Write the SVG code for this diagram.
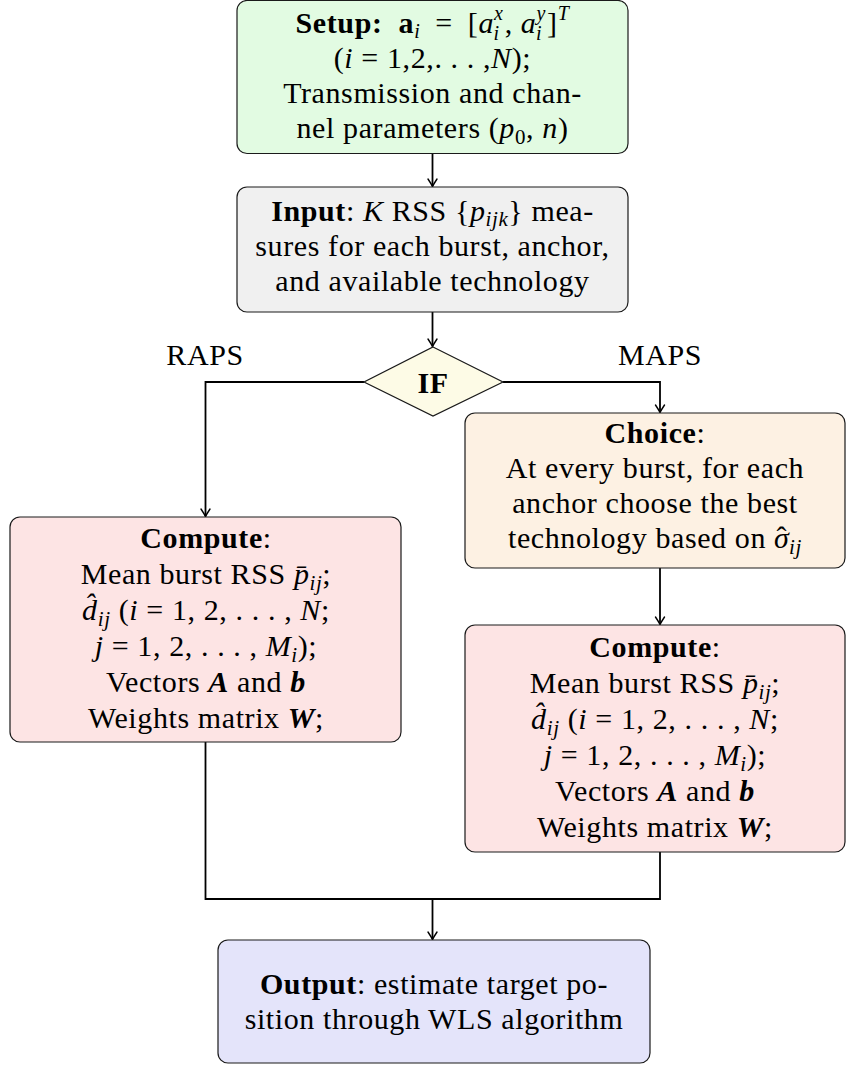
<svg xmlns="http://www.w3.org/2000/svg" width="847" height="1067" viewBox="0 0 847 1067">
<defs>
<marker id="arr" viewBox="-9 -6 10 12" refX="0" refY="0" markerWidth="10" markerHeight="12" markerUnits="userSpaceOnUse" orient="auto">
<path d="M-7.5,-4.5 Q-2.5,-1.2 0,0 Q-2.5,1.2 -7.5,4.5" fill="none" stroke="#000" stroke-width="1.4" stroke-linecap="round"/>
</marker>
</defs>
<style>
text{font-family:"Liberation Serif","Times New Roman",serif;font-size:30px;fill:#000;text-anchor:middle;letter-spacing:0.6px}
.b{font-weight:bold}
.i{font-style:italic}
.bi{font-weight:bold;font-style:italic}
.s{font-size:21px}
.ss{font-size:20px}
.box{stroke:#1a1a1a;stroke-width:1.2}
.conn{fill:none;stroke:#000;stroke-width:1.8}
</style>
<rect width="847" height="1067" fill="#fff"/>
<g id="connectors">
<path class="conn" d="M432.5,153.5 V186.5" marker-end="url(#arr)"/>
<path class="conn" d="M432.5,312 V346.5" marker-end="url(#arr)"/>
<path class="conn" d="M364,382 H205.5 V516.5" marker-end="url(#arr)"/>
<path class="conn" d="M503,382 H660 V412.5" marker-end="url(#arr)"/>
<path class="conn" d="M660,568 V624.5" marker-end="url(#arr)"/>
<path class="conn" d="M205.5,742 V899 H660 V852"/>
<path class="conn" d="M432.5,899 V939.5" marker-end="url(#arr)"/>
<text x="205" y="365">RAPS</text>
<text x="660" y="365">MAPS</text>
</g>
<g id="setup">
<rect class="box" x="237" y="0.5" width="391" height="153" rx="10" fill="#e2fbe2"/>
<text x="432.5" y="33"><tspan class="b">Setup:</tspan><tspan class="b" dx="16">a</tspan><tspan class="ss i" dy="5">i</tspan><tspan dx="15" dy="-5">=</tspan><tspan dx="15">[</tspan><tspan class="i">a</tspan><tspan class="ss i" dy="-13">x</tspan><tspan class="ss i" dx="-10" dy="20">i</tspan><tspan dx="5" dy="-7">,</tspan><tspan class="i" dx="8">a</tspan><tspan class="ss i" dy="-13">y</tspan><tspan class="ss i" dx="-10" dy="20">i</tspan><tspan dx="5" dy="-7">]</tspan><tspan class="ss i" dy="-13">T</tspan></text>
<text x="432.5" y="68">(<tspan class="i">i</tspan> = 1,2,. . . ,<tspan class="i">N</tspan>);</text>
<text x="432.5" y="103">Transmission and chan-</text>
<text x="432.5" y="138">nel parameters (<tspan class="i">p</tspan><tspan class="s" dy="6">0</tspan><tspan dy="-6">, </tspan><tspan class="i">n</tspan>)</text>
</g>
<g id="input">
<rect class="box" x="237" y="187" width="391" height="125" rx="10" fill="#f0f0f0"/>
<text x="432.5" y="221"><tspan class="b">Input</tspan>: <tspan class="i">K</tspan> RSS {<tspan class="i">p</tspan><tspan class="s i" dy="5">ijk</tspan><tspan dy="-5">} mea-</tspan></text>
<text x="432.5" y="256">sures for each burst, anchor,</text>
<text x="432.5" y="291">and available technology</text>
</g>
<g id="if">
<polygon class="box" points="433,347 503,382 433,416 364,382" fill="#fdfbe6"/>
<text x="433" y="393" class="b">IF</text>
</g>
<g id="choice">
<rect class="box" x="465" y="413" width="380" height="155" rx="10" fill="#fdf1e3"/>
<text x="655" y="443"><tspan class="b">Choice</tspan>:</text>
<text x="655" y="478">At every burst, for each</text>
<text x="655" y="513">anchor choose the best</text>
<text x="655" y="548">technology based on <tspan class="i">σ</tspan><tspan dx="-13" dy="-1">ˆ</tspan><tspan class="s i" dx="2" dy="7">ij</tspan></text>
</g>
<g id="compute-raps">
<rect class="box" x="10" y="517" width="391" height="225" rx="10" fill="#fde4e4"/>
<text x="206" y="548"><tspan class="b">Compute</tspan>:</text>
<text x="206" y="584">Mean burst RSS <tspan class="i">p̄</tspan><tspan class="s i" dy="6">ij</tspan><tspan dy="-6">;</tspan></text>
<text x="206" y="620"><tspan class="i">d̂</tspan><tspan class="s i" dy="6">ij</tspan><tspan dy="-6"> (</tspan><tspan class="i">i</tspan> = 1, 2, . . . , <tspan class="i">N</tspan>;</text>
<text x="206" y="656"><tspan class="i">j</tspan> = 1, 2, . . . , <tspan class="i">M</tspan><tspan class="s i" dy="6">i</tspan><tspan dy="-6">);</tspan></text>
<text x="206" y="692">Vectors <tspan class="bi">A</tspan> and <tspan class="bi">b</tspan></text>
<text x="206" y="728">Weights matrix <tspan class="bi">W</tspan>;</text>
</g>
<g id="compute-maps">
<rect class="box" x="465" y="625" width="380" height="227" rx="10" fill="#fde4e4"/>
<text x="655" y="657"><tspan class="b">Compute</tspan>:</text>
<text x="655" y="693">Mean burst RSS <tspan class="i">p̄</tspan><tspan class="s i" dy="6">ij</tspan><tspan dy="-6">;</tspan></text>
<text x="655" y="729"><tspan class="i">d̂</tspan><tspan class="s i" dy="6">ij</tspan><tspan dy="-6"> (</tspan><tspan class="i">i</tspan> = 1, 2, . . . , <tspan class="i">N</tspan>;</text>
<text x="655" y="765"><tspan class="i">j</tspan> = 1, 2, . . . , <tspan class="i">M</tspan><tspan class="s i" dy="6">i</tspan><tspan dy="-6">);</tspan></text>
<text x="655" y="801">Vectors <tspan class="bi">A</tspan> and <tspan class="bi">b</tspan></text>
<text x="655" y="837">Weights matrix <tspan class="bi">W</tspan>;</text>
</g>
<g id="output">
<rect class="box" x="218" y="940" width="432" height="123" rx="10" fill="#e4e4fa"/>
<text x="434" y="994"><tspan class="b">Output</tspan>: estimate target po-</text>
<text x="434" y="1029">sition through WLS algorithm</text>
</g>
</svg>
